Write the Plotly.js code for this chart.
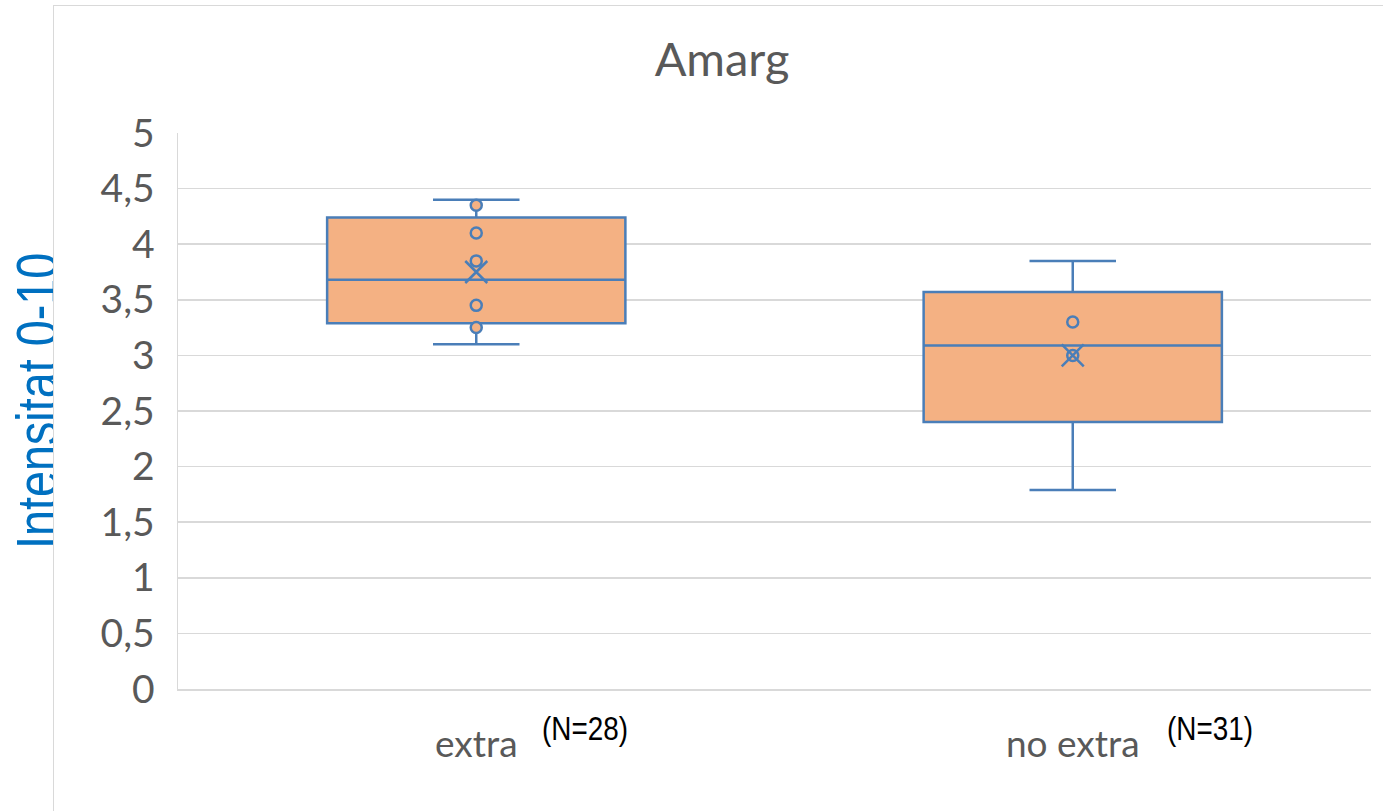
<!DOCTYPE html>
<html>
<head>
<meta charset="utf-8">
<script src="https://cdn.plot.ly/plotly-3.0.1.min.js"></script>
<style>
  html, body { margin: 0; padding: 0; background: #ffffff; overflow: hidden; }
  #bg { position: absolute; left: 0; top: 0; width: 1383px; height: 811px; }
  #frame { position: absolute; left: 53px; top: 5px; width: 1329px; height: 805px;
           border-left: 1px solid #d9d9d9; border-top: 1px solid #d9d9d9; background: #ffffff; }
  #chart { width: 1329px; height: 805px; }
  .narrow { transform-box: fill-box; transform: scaleX(0.82); }
</style>
</head>
<body>
<div id="bg"></div>
<div id="frame"><div id="chart"></div></div>
<script>
// ---- data ----
const categories = ['extra', 'no extra'];
const nLabels = ['(N=28)', '(N=31)'];
const q1 = [3.29, 2.40];
const medians = [3.68, 3.09];
const q3 = [4.24, 3.57];
const lowerWhisker = [3.10, 1.79];
const upperWhisker = [4.40, 3.85];
const means = [3.75, 3.00];
const extraPoints = [4.35, 4.10, 3.85, 3.45, 3.25];
const noExtraPoints = [3.30, 3.00];
const yTickVals = [0, 0.5, 1, 1.5, 2, 2.5, 3, 3.5, 4, 4.5, 5];
const yTickText = ['0', '0,5', '1', '1,5', '2', '2,5', '3', '3,5', '4', '4,5', '5'];
const chartTitle = 'Amarg';
const yTitle = 'Intensitat 0-10';

// ---- styles ----
const blue = '#4A7EB8';
const orange = '#F4B183';
const grey = '#595959';
const nLabelShift = [64, 92];
const narrowFont = '"Liberation Sans", Arial, sans-serif';
const mainFont = 'Lato, "Open Sans", sans-serif';

function narrowAnnotations(divId, origins) {
  const texts = document.querySelectorAll('#' + divId + ' .annotation-text');
  texts.forEach((t, i) => {
    t.classList.add('narrow');
    t.style.transformOrigin = origins[i] || 'center';
  });
}

// background layer: y axis title (partly hidden by the chart frame, as in the reference)
Plotly.newPlot('bg', [], {
  width: 1383, height: 811,
  margin: {l: 0, r: 0, t: 0, b: 0},
  paper_bgcolor: '#ffffff', plot_bgcolor: '#ffffff',
  xaxis: {visible: false, range: [0, 1]},
  yaxis: {visible: false, range: [0, 1]},
  annotations: [{
    text: yTitle, xref: 'paper', yref: 'paper',
    x: 37.5 / 1383, y: 1 - 401 / 811,
    xanchor: 'center', yanchor: 'middle',
    textangle: -90, showarrow: false,
    font: {family: narrowFont, size: 57, color: '#0070C0'}
  }]
}, {staticPlot: true}).then(() => narrowAnnotations('bg', ['center']));

const boxTrace = {
  type: 'box',
  x: categories,
  q1: q1, median: medians, q3: q3,
  lowerfence: lowerWhisker, upperfence: upperWhisker,
  boxpoints: false,
  width: 0.5,
  whiskerwidth: 0.29,
  fillcolor: orange,
  line: {color: blue, width: 2.5},
  hoverinfo: 'skip',
  showlegend: false
};

const pointsTrace = {
  type: 'scatter', mode: 'markers',
  x: extraPoints.map(() => categories[0]).concat(noExtraPoints.map(() => categories[1])),
  y: extraPoints.concat(noExtraPoints),
  marker: {symbol: 'circle', size: 11, color: orange, line: {color: blue, width: 2.5}},
  showlegend: false, hoverinfo: 'skip'
};

const meanTrace = {
  type: 'scatter', mode: 'markers',
  x: categories, y: means,
  marker: {symbol: 'x-thin-open', size: 22, color: blue, line: {color: blue, width: 2.5}},
  showlegend: false, hoverinfo: 'skip'
};

const layout = {
  width: 1329, height: 805,
  margin: {l: 124, r: 12, t: 127, b: 122},
  paper_bgcolor: '#ffffff', plot_bgcolor: '#ffffff',
  title: {
    text: chartTitle,
    xref: 'container', yref: 'container',
    x: (722 - 54) / 1329, xanchor: 'center',
    y: 1 - (60 - 6) / 805, yanchor: 'middle',
    font: {family: mainFont, size: 47, color: grey}
  },
  xaxis: {
    type: 'category',
    range: [-0.5, 1.5],
    showgrid: false, zeroline: false,
    showline: true, linecolor: '#d9d9d9', linewidth: 1.5,
    ticks: '', ticklabelstandoff: 22,
    tickfont: {family: mainFont, size: 37, color: grey},
    fixedrange: true
  },
  yaxis: {
    range: [0, 5],
    tickvals: yTickVals, ticktext: yTickText,
    showgrid: true, gridcolor: '#d9d9d9', gridwidth: 1.5,
    zeroline: false,
    showline: true, linecolor: '#d9d9d9', linewidth: 1.5,
    ticks: '', ticklabelstandoff: 14,
    tickfont: {family: mainFont, size: 39, color: grey},
    fixedrange: true
  },
  annotations: categories.map((c, i) => ({
    text: nLabels[i], xref: 'x', yref: 'paper',
    x: c, y: 0, xanchor: 'left', yanchor: 'middle',
    xshift: nLabelShift[i], yshift: -39,
    showarrow: false,
    font: {family: narrowFont, size: 34, color: '#000000'}
  }))
};

Plotly.newPlot('chart', [boxTrace, pointsTrace, meanTrace], layout, {staticPlot: true})
  .then(() => narrowAnnotations('chart', ['left center', 'left center']));
</script>
</body>
</html>
